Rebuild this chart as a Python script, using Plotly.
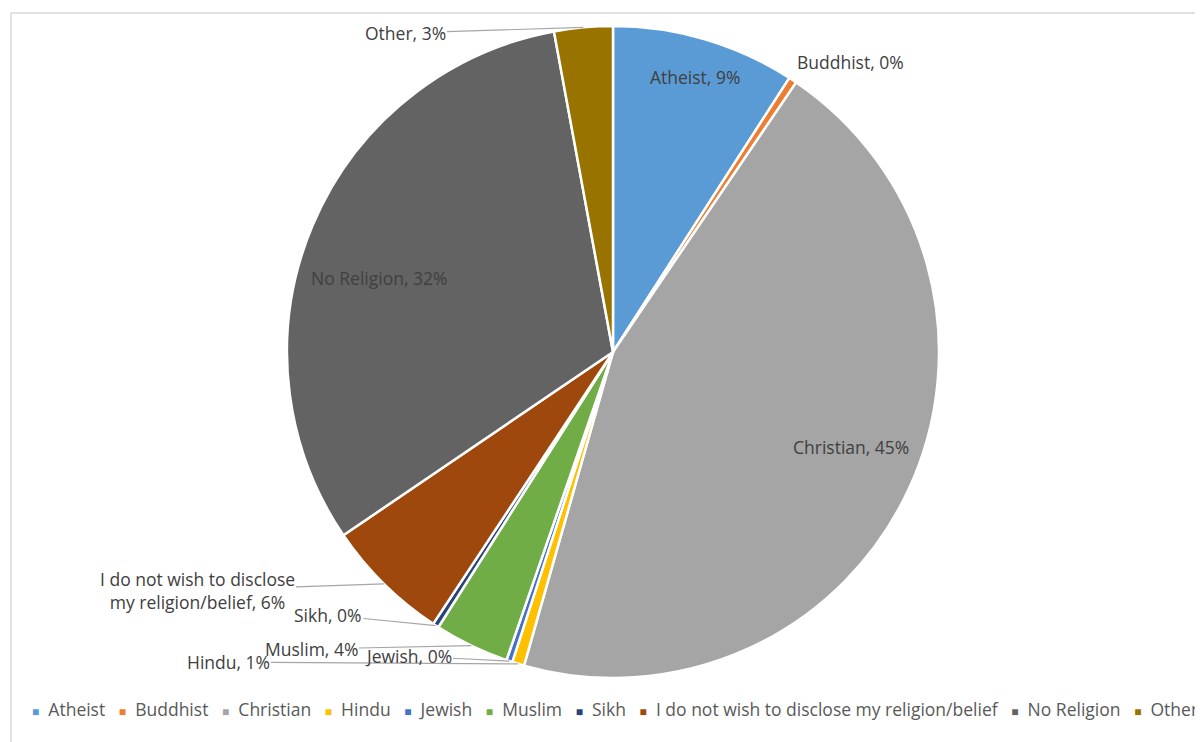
import math
import plotly.graph_objects as go

labels = ["Atheist", "Buddhist", "Christian", "Hindu", "Jewish", "Muslim", "Sikh",
          "I do not wish to disclose my religion/belief", "No Religion", "Other"]
values = [9.1, 0.4, 44.9, 0.6, 0.3, 3.7, 0.3, 6.2, 31.6, 2.9]
colors = ["#5B9BD5", "#ED7D31", "#A5A5A5", "#FFC000", "#4472C4", "#70AD47", "#264478",
          "#9E480E", "#636363", "#997300"]

# ---- layout settings (pixels in figure space) ----
W, H = 1203, 742
L, T, D = 279, 18, 652          # plot-area left/top and pie box size
FONT = "Open Sans"
TXT = "#404040"
LABEL_SIZE = 17.5

# data-label centres (figure px) and whether a leader line is drawn
label_pos = [(687, 69, False), (842, 54, False), (843, 439, False), (220, 654, True),
             (400, 648, True), (303, 641, True), (320, 607, True), (189, 582, True),
             (371, 270, False), (397, 25, True)]

fig = go.Figure(go.Pie(
    labels=labels, values=values, sort=False,
    direction="clockwise", rotation=0,
    marker=dict(colors=colors, line=dict(color="white", width=2.5)),
    textinfo="none",
    hole=0,
    showlegend=False,
    domain=dict(x=[0, 1], y=[0, 1]),
))


def px2x(px):
    return (px - L) / D


def py2y(py):
    return 1 - (py - T) / D


total = sum(values)
annotations = []
cum = 0.0
for lab, v, (cx, cy, arrow) in zip(labels, values, label_pos):
    mid = (cum + v / 2) / total * 2 * math.pi
    cum += v
    pct = round(v / total * 100)
    txt = lab.replace("disclose ", "disclose<br>") + f", {pct}%"
    if arrow:
        # tip on the slice edge at its mid angle
        tx = L + D / 2 + D / 2 * math.sin(mid)
        ty = T + D / 2 - D / 2 * math.cos(mid)
        annotations.append(dict(
            x=px2x(tx), y=py2y(ty), xref="paper", yref="paper",
            ax=cx - tx, ay=cy - ty, axref="pixel", ayref="pixel",
            text=txt, showarrow=True, arrowhead=0, arrowwidth=1.2,
            arrowcolor="#A6A6A6", standoff=0, startstandoff=0,
            xanchor="center", yanchor="middle", align="center",
            font=dict(family=FONT, size=LABEL_SIZE, color=TXT)))
    else:
        annotations.append(dict(
            x=px2x(cx), y=py2y(cy), xref="paper", yref="paper",
            text=txt, showarrow=False, xanchor="center", yanchor="middle",
            font=dict(family=FONT, size=LABEL_SIZE, color=TXT)))

# legend row built from the same lists
legend_text = "&nbsp;&nbsp;&nbsp;".join(
    f"<span style='color:{c};font-size:12px'>■</span>&nbsp;&nbsp;{l}"
    for l, c in zip(labels, colors)
)
annotations.append(dict(text=legend_text, xref="paper", yref="paper",
                        x=px2x(22), y=py2y(701), xanchor="left", yanchor="middle",
                        showarrow=False, align="left",
                        font=dict(family=FONT, size=17.5, color="#595959")))

fig.update_layout(
    width=W, height=H,
    margin=dict(l=L, r=W - L - D, t=T, b=H - T - D),
    paper_bgcolor="white",
    showlegend=False,
    annotations=annotations,
    shapes=[dict(type="rect", xref="paper", yref="paper",
                 x0=px2x(3), x1=2.0, y0=-0.3, y1=py2y(5),
                 line=dict(color="#D9D9D9", width=1.5), fillcolor="rgba(0,0,0,0)",
                 layer="below")],
)

fig.write_html("out.html")
